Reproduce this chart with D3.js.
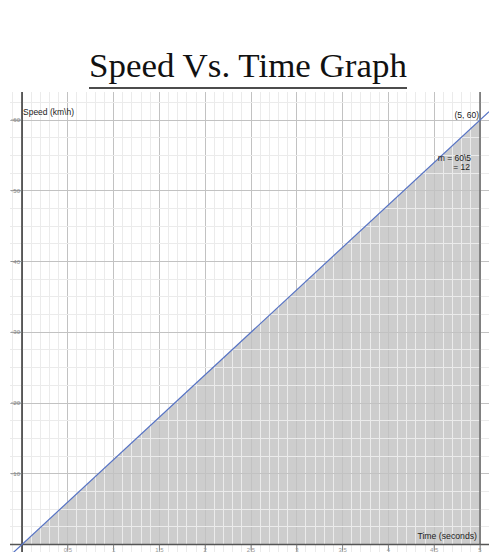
<!DOCTYPE html>
<html><head><meta charset="utf-8">
<script src="https://cdn.jsdelivr.net/npm/d3@7"></script>
<style>html,body{margin:0;padding:0;background:#fff;}svg{display:block;}</style>
</head><body>
<script>
const times = [0, 5];
const speeds = [0, 60];
const xTickValues = [0.5, 1, 1.5, 2, 2.5, 3, 3.5, 4, 4.5, 5];
const xTickLabels = ["0.5", "1", "1.5", "2", "2.5", "3", "3.5", "4", "4.5", "5"];
const yTickValues = [10, 20, 30, 40, 50, 60];
const yTickLabels = ["10", "20", "30", "40", "50", "60"];
const titleText = "Speed Vs. Time Graph";
const yLabel = "Speed (km\\h)";
const xLabel = "Time (seconds)";
const pointLabel = "(5, 60)";
const slopeLines = ["m = 60\\5", "= 12"];

(function () {
const W = 489, H = 552;
const svg = d3.select("body").append("svg").attr("width", W).attr("height", H);

const x = d3.scaleLinear().domain([0, 5]).range([22, 480]);
const y = d3.scaleLinear().domain([0, 60]).range([544.5, 120]);
const pL = 10, pR = 489, pT = 92, pB = 552;

// fill under line
const pts = times.map((t, i) => [t, speeds[i]]);
const area = d3.area().x(d => x(d[0])).y0(y(0)).y1(d => y(d[1]));
svg.append("path").datum(pts).attr("d", area).attr("fill", "#cdcdcd");

// grid
const xMin = x.invert(pL), xMax = x.invert(pR);
const yMin = y.invert(pB), yMax = y.invert(pT);
const minorX = d3.range(Math.ceil(xMin * 10), Math.floor(xMax * 10) + 1).map(k => k / 10);
const minorY = d3.range(Math.ceil(yMin / 2.5), Math.floor(yMax / 2.5) + 1).map(k => k * 2.5);
const isMajX = d => Math.abs(d * 2 - Math.round(d * 2)) < 1e-6;
const isMajY = d => Math.abs(d / 10 - Math.round(d / 10)) < 1e-6;
const g = svg.append("g");
g.selectAll("line.mx").data(minorX).join("line")
  .attr("x1", d => x(d)).attr("x2", d => x(d)).attr("y1", pT).attr("y2", pB)
  .attr("stroke", d => isMajX(d) ? "#c2c2c2" : "#ebebeb")
  .attr("stroke-width", 1).attr("shape-rendering", "crispEdges");
g.selectAll("line.my").data(minorY).join("line")
  .attr("y1", d => y(d)).attr("y2", d => y(d)).attr("x1", pL).attr("x2", pR)
  .attr("stroke", d => isMajY(d) ? "#c2c2c2" : "#ebebeb")
  .attr("stroke-width", 1).attr("shape-rendering", "crispEdges");

// vertical line at end time
svg.append("line").attr("x1", x(times[1])).attr("x2", x(times[1]))
  .attr("y1", pT).attr("y2", y(0)).attr("stroke", "#6a6a6a").attr("stroke-width", 1.5);

// axes
svg.append("line").attr("x1", x(0)).attr("x2", x(0)).attr("y1", pT).attr("y2", pB)
  .attr("stroke", "#333").attr("stroke-width", 1.5);
svg.append("line").attr("x1", pL).attr("x2", pR).attr("y1", y(0)).attr("y2", y(0))
  .attr("stroke", "#555").attr("stroke-width", 1.3);

// ticks
const tickFont = "Liberation Sans, Arial, sans-serif";
svg.selectAll("line.xt").data(xTickValues).join("line")
  .attr("x1", d => x(d)).attr("x2", d => x(d)).attr("y1", y(0)).attr("y2", y(0) + 6)
  .attr("stroke", "#777").attr("stroke-width", 0.8);
svg.selectAll("text.xt").data(xTickValues).join("text")
  .attr("x", d => x(d)).attr("y", y(0) + 7.5).attr("text-anchor", "middle")
  .attr("font-family", tickFont).attr("font-size", 6).attr("fill", "#999")
  .text((d, i) => xTickLabels[i]);
svg.selectAll("line.yt").data(yTickValues).join("line")
  .attr("x1", x(0) - 11).attr("x2", x(0)).attr("y1", d => y(d)).attr("y2", d => y(d))
  .attr("stroke", "#888").attr("stroke-width", 0.8);
svg.selectAll("text.yt").data(yTickValues).join("text")
  .attr("x", x(0) - 2).attr("y", d => y(d) + 2).attr("text-anchor", "end")
  .attr("font-family", tickFont).attr("font-size", 6).attr("fill", "#888")
  .text((d, i) => yTickLabels[i]);

// line extended across plot using slope from data
const slope = (speeds[1] - speeds[0]) / (times[1] - times[0]);
const lineExt = [[xMin, speeds[0] + slope * (xMin - times[0])], [xMax, speeds[0] + slope * (xMax - times[0])]];
svg.append("clipPath").attr("id", "clip").append("rect")
  .attr("x", pL).attr("y", pT).attr("width", pR - pL).attr("height", pB - pT);
svg.append("path").datum(lineExt).attr("clip-path", "url(#clip)")
  .attr("d", d3.line().x(d => x(d[0])).y(d => y(d[1])))
  .attr("fill", "none").attr("stroke", "#5673c4").attr("stroke-width", 1.2);

// labels
const lblFont = "Liberation Sans, Arial, sans-serif";
svg.append("text").attr("x", x(0) + 1).attr("y", 114.5).attr("font-family", lblFont)
  .attr("font-size", 8.5).attr("fill", "#222").text(yLabel);
svg.append("text").attr("x", 479).attr("y", 117.5).attr("text-anchor", "end")
  .attr("font-family", lblFont).attr("font-size", 8.5).attr("fill", "#222").text(pointLabel);
svg.append("text").attr("x", 471).attr("y", 160.5).attr("text-anchor", "end")
  .attr("font-family", lblFont).attr("font-size", 8.5).attr("fill", "#222").text(slopeLines[0]);
svg.append("text").attr("x", 470).attr("y", 169.5).attr("text-anchor", "end")
  .attr("font-family", lblFont).attr("font-size", 8.5).attr("fill", "#222").text(slopeLines[1]);
svg.append("text").attr("x", 477).attr("y", 538.5).attr("text-anchor", "end")
  .attr("font-family", lblFont).attr("font-size", 8.7).attr("fill", "#222").text(xLabel);

// title
svg.append("text").attr("x", 248).attr("y", 77).attr("text-anchor", "middle")
  .attr("font-family", "Liberation Serif, DejaVu Serif, serif").attr("font-size", 34)
  .attr("textLength", 318).attr("lengthAdjust", "spacingAndGlyphs")
  .attr("fill", "#111").text(titleText);
svg.append("line").attr("x1", 89).attr("x2", 407).attr("y1", 88).attr("y2", 88)
  .attr("stroke", "#111").attr("stroke-width", 1.3);
})();
</script>
</body></html>
